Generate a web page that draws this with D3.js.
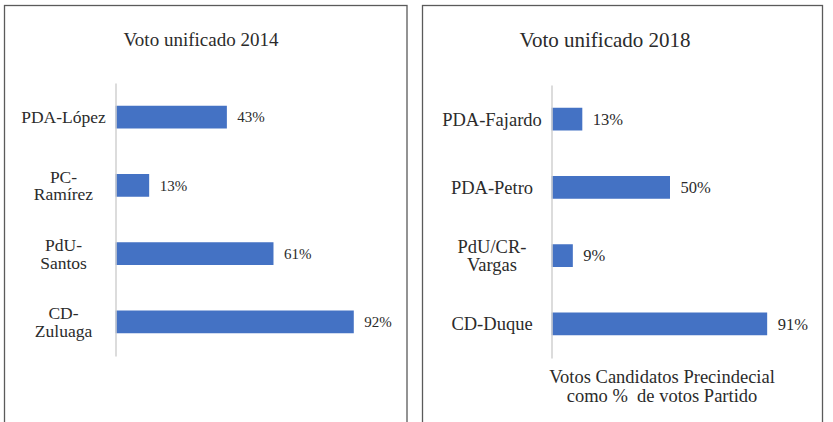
<!DOCTYPE html>
<html>
<head>
<meta charset="utf-8">
<script src="https://cdn.jsdelivr.net/npm/d3@7"></script>
<style>
  html, body { margin: 0; padding: 0; background: #fff; }
  text { white-space: pre; }
</style>
</head>
<body>
<svg id="chart" width="833" height="422"></svg>
<script>
// ---- Data ----
const titles2014 = "Voto unificado 2014";
const categories2014 = ["PDA-López", "PC-\nRamírez", "PdU-\nSantos", "CD-\nZuluaga"];
const values2014 = [43, 13, 61, 92];

const titles2018 = "Voto unificado 2018";
const categories2018 = ["PDA-Fajardo", "PDA-Petro", "PdU/CR-\nVargas", "CD-Duque"];
const values2018 = [13, 50, 9, 91];
const axisTitle2018 = ["Votos Candidatos Precindecial", "como %  de votos Partido"];

const xDomain = [0, 100];

const svg = d3.select("#chart");
const textColor = "#2b2b2b";
const barColor = "#4472C4";
const serif = '"Liberation Serif"';

function panel(cfg) {
  const g = svg.append("g").attr("font-family", serif);
  g.append("rect")
    .attr("x", cfg.box[0]).attr("y", cfg.box[1])
    .attr("width", cfg.box[2]).attr("height", 440)
    .attr("fill", "none").attr("stroke", "#5a5a5a").attr("stroke-width", 1.3);

  g.append("text")
    .attr("x", cfg.titleX).attr("y", cfg.titleY)
    .attr("text-anchor", "middle")
    .attr("font-family", serif)
    .attr("font-size", cfg.titleSize)
    .attr("fill", textColor)
    .text(cfg.title);

  const x = d3.scaleLinear().domain(xDomain).range(cfg.xRange);
  const y = d3.scaleBand().domain(cfg.categories).range(cfg.yRange)
    .paddingInner(2/3).paddingOuter(1/3);

  g.selectAll("rect.bar")
    .data(cfg.values)
    .join("rect")
    .attr("class", "bar")
    .attr("x", x(0))
    .attr("y", (d, i) => y(cfg.categories[i]))
    .attr("width", d => x(d) - x(0))
    .attr("height", y.bandwidth())
    .attr("fill", barColor);

  const ax = g.append("g")
    .attr("transform", `translate(${x(0)},0)`)
    .call(d3.axisLeft(y).tickSize(0).tickSizeOuter(0).tickFormat(""));
  ax.select(".domain").attr("stroke", "#d0d0d0").attr("stroke-width", 1.5);

  g.selectAll("text.val")
    .data(cfg.values)
    .join("text")
    .attr("class", "val")
    .attr("x", d => x(d) + 10.5)
    .attr("y", (d, i) => y(cfg.categories[i]) + y.bandwidth() / 2)
    .attr("dy", "0.35em")
    .attr("font-family", serif)
    .attr("font-size", cfg.valSize)
    .attr("fill", textColor)
    .text(d => d + "%");

  cfg.categories.forEach(c => {
    const lines = c.split("\n");
    const cy = y(c) + y.bandwidth() / 2;
    const first = cy + 0.35 * cfg.catSize - (lines.length - 1) * cfg.lineH / 2;
    lines.forEach((ln, k) => {
      g.append("text")
        .attr("text-anchor", "middle")
        .attr("font-family", serif)
        .attr("font-size", cfg.catSize)
        .attr("fill", textColor)
        .attr("x", cfg.catX)
        .attr("y", first + k * cfg.lineH)
        .text(ln);
    });
  });

  if (cfg.axisTitle) {
    cfg.axisTitle.forEach((ln, k) => {
      g.append("text")
        .attr("text-anchor", "middle")
        .attr("font-family", serif)
        .attr("font-size", cfg.axisTitleSize)
        .attr("fill", textColor)
        .attr("x", cfg.axisTitleX)
        .attr("y", cfg.axisTitleY + k * cfg.axisTitleLineH)
        .text(ln);
    });
  }
}

panel({
  box: [4.5, 5.5, 402.5],
  title: titles2014, titleX: 201, titleY: 46, titleSize: 19,
  categories: categories2014, values: values2014,
  xRange: [115.5, 374.5], yRange: [83, 356],
  valSize: 15, catSize: 17.5, lineH: 17.6, catX: 63.5
});

panel({
  box: [422.5, 5.5, 400],
  title: titles2018, titleX: 605, titleY: 47, titleSize: 21,
  categories: categories2018, values: values2018,
  xRange: [551.5, 788.5], yRange: [85, 358],
  valSize: 16.5, catSize: 18.5, lineH: 18.5, catX: 492,
  axisTitle: axisTitle2018, axisTitleX: 662, axisTitleY: 383,
  axisTitleSize: 18.5, axisTitleLineH: 18.5
});
</script>
</body>
</html>
